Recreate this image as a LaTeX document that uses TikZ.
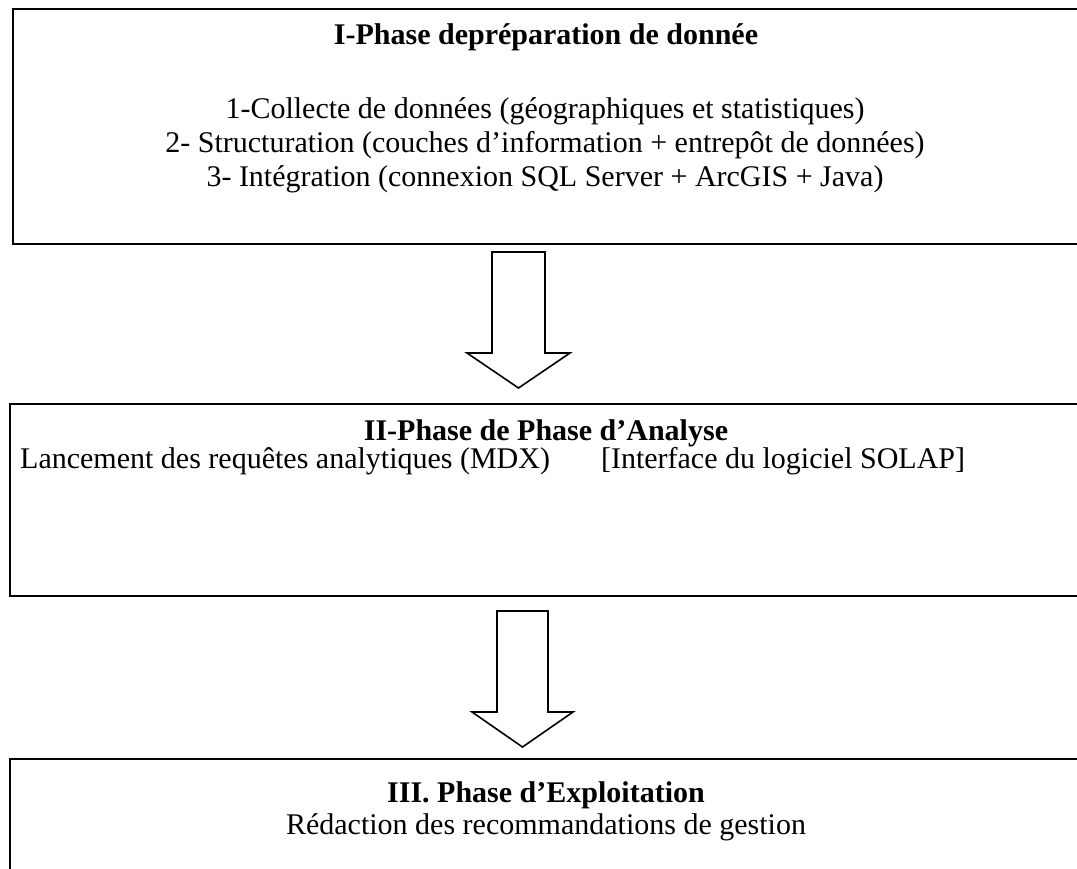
\documentclass[tikz,border=0pt]{standalone}
\usepackage{fontspec}
\setmainfont{Liberation Serif}
\begin{document}
\begin{tikzpicture}[x=1pt,y=-1pt,
  box/.style={draw=black,line width=2pt,inner sep=0pt,anchor=north west},
  blockarrow/.style={draw=black,line width=1.6pt,fill=white,line join=miter},
  txt/.style={font=\fontsize{30}{34.5}\selectfont,inner sep=0pt,anchor=base},
  ttl/.style={font=\fontsize{30}{34.5}\selectfont\bfseries,inner sep=0pt,anchor=base}]
\useasboundingbox (0,0) rectangle (1077,869);
\clip (0,0) rectangle (1077,869);
% boxes
\node[box,minimum width=1090pt,minimum height=235pt] (b1) at (12,8) {};
\node[box,minimum width=1090pt,minimum height=192pt] (b2) at (9,403) {};
\node[box,minimum width=1090pt,minimum height=140pt] (b3) at (9,758) {};
% arrows
\draw[blockarrow] (492,252) -- (545,252) -- (545,353) -- (570,353) -- (518.5,388) -- (467,353) -- (492,353) -- cycle;
\draw[blockarrow] (497,611) -- (548,611) -- (548,712) -- (573,712) -- (522.5,747) -- (472,712) -- (497,712) -- cycle;
% texts box 1
\node[ttl] (t1) at (546,45) {I-Phase depréparation de donnée};
\node[txt] (l11) at (545,119) {1-Collecte de données (géographiques et statistiques)};
\node[txt] (l12) at (545,153) {2- Structuration (couches d’information + entrepôt de données)};
\node[txt] (l13) at (545,187) {3- Intégration (connexion SQL Server + ArcGIS + Java)};
% box 2
\node[ttl] (t2) at (546,440) {II-Phase de Phase d’Analyse};
\node[txt,anchor=base west] (l21) at (20,468) {Lancement des requêtes analytiques (MDX)\hspace{1.7em}[Interface du logiciel SOLAP]};
% box 3
\node[ttl] (t3) at (546,802) {III. Phase d’Exploitation};
\node[txt] (l31) at (546,834) {Rédaction des recommandations de gestion};
\end{tikzpicture}
\end{document}
